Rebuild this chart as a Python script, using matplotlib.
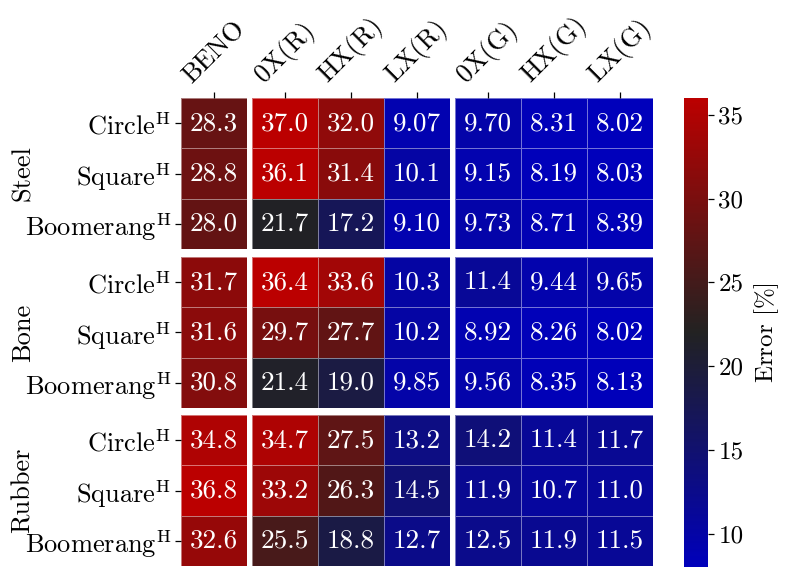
import numpy as np
import matplotlib
matplotlib.use('Agg')
import matplotlib.pyplot as plt
from matplotlib.colors import LinearSegmentedColormap

plt.rcParams['font.family'] = 'serif'
plt.rcParams['font.serif'] = ['cmr10']
plt.rcParams['mathtext.fontset'] = 'cm'
plt.rcParams['axes.unicode_minus'] = False

materials = ['Steel', 'Bone', 'Rubber']
shapes = ['Circle', 'Square', 'Boomerang']
columns = ['BENO', '0X(R)', 'HX(R)', 'LX(R)', '0X(G)', 'HX(G)', 'LX(G)']
col_groups = [[0], [1, 2, 3], [4, 5, 6]]

# rows: Circle, Square, Boomerang ; cols as in `columns`
steel = [[28.3, 37.0, 32.0, 9.07, 9.70, 8.31, 8.02],
         [28.8, 36.1, 31.4, 10.1, 9.15, 8.19, 8.03],
         [28.0, 21.7, 17.2, 9.10, 9.73, 8.71, 8.39]]
bone = [[31.7, 36.4, 33.6, 10.3, 11.4, 9.44, 9.65],
        [31.6, 29.7, 27.7, 10.2, 8.92, 8.26, 8.02],
        [30.8, 21.4, 19.0, 9.85, 9.56, 8.35, 8.13]]
rubber = [[34.8, 34.7, 27.5, 13.2, 14.2, 11.4, 11.7],
          [36.8, 33.2, 26.3, 14.5, 11.9, 10.7, 11.0],
          [32.6, 25.5, 18.8, 12.7, 12.5, 11.9, 11.5]]

errors = np.array([steel, bone, rubber])

cbar_ticks = [10, 15, 20, 25, 30, 35]
vmin, vmax = 8.02, 36.0

cmap = LinearSegmentedColormap.from_list('bkr', ['#0000bb', '#222222', '#bb0000'])


def fmt(v):
    return f'{v:.2f}' if v < 10 else f'{v:.1f}'


W, H = 793, 580
fig = plt.figure(figsize=(W / 100, H / 100), dpi=100)

# pixel boxes of the panel blocks
col_x = [(181, 247), (252, 450), (455, 653)]
row_y = [(98, 249), (257, 408), (415, 566)]


def px_axes(x0, x1, y0, y1):
    return fig.add_axes([x0 / W, 1 - y1 / H, (x1 - x0) / W, (y1 - y0) / H])


mesh = None
for i, mat in enumerate(materials):
    for j, cols in enumerate(col_groups):
        ax = px_axes(*col_x[j], *row_y[i])
        data = errors[i][:, cols]
        mesh = ax.pcolormesh(data, cmap=cmap, vmin=vmin, vmax=vmax,
                             edgecolors=(1, 1, 1, 0.45), linewidth=0.6)
        ax.set_xlim(0, len(cols))
        ax.set_ylim(len(shapes), 0)
        for r in range(data.shape[0]):
            for c in range(data.shape[1]):
                ax.text(c + 0.5, r + 0.5, fmt(data[r, c]), ha='center', va='center',
                        color='white', fontsize=19.5)
        for s in ax.spines.values():
            s.set_visible(False)
        if i == 0:
            ax.xaxis.tick_top()
            ax.set_xticks(np.arange(len(cols)) + 0.5)
            ax.set_xticklabels([columns[k] for k in cols], rotation=45, fontsize=19)
        else:
            ax.set_xticks([])
        if j == 0:
            ax.set_yticks(np.arange(len(shapes)) + 0.5)
            ax.set_yticklabels([s + r'$^{\mathrm{H}}$' for s in shapes], fontsize=19)
        else:
            ax.set_yticks([])
        ax.tick_params(length=4, width=0.9, pad=3)
    yc = (row_y[i][0] + row_y[i][1]) / 2
    fig.text(23 / W, 1 - yc / H, mat, rotation=90, ha='center', va='center', fontsize=19)

cax = px_axes(684, 708, 98, 567)
cb = fig.colorbar(mesh, cax=cax)
cb.outline.set_visible(False)
cb.set_ticks(cbar_ticks)
cb.ax.tick_params(labelsize=18, length=4, width=0.9)
cb.set_label(r'Error [$\%$]', fontsize=18, labelpad=6)

fig.savefig('out.png', dpi=100)
